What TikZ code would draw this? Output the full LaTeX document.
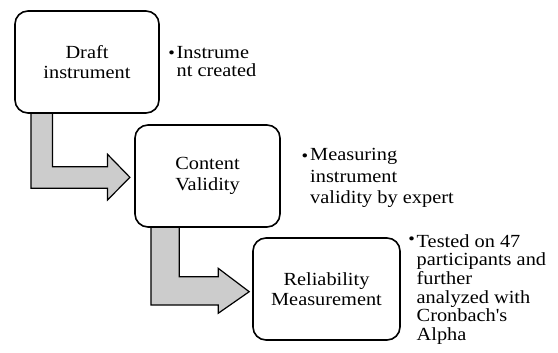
\documentclass[tikz,border=0pt]{standalone}
\usepackage{fontspec}
\setmainfont[FakeStretch=1.1, Ligatures=TeXOff]{Liberation Serif}
\usetikzlibrary{calc,backgrounds}

\tikzset{
  stage/.style={draw=black, line width=1.6pt, rounded corners=13pt, fill=white,
    align=center, inner sep=0pt, font=\fontsize{18.5}{20.5}\selectfont},
  flow/.style={draw=black, line width=1.2pt, fill=gray!40, line join=miter},
  note/.style={anchor=north west, align=left, inner sep=0pt},
  dot/.style={anchor=center, inner sep=0pt, font=\fontsize{17}{17}\selectfont}
}

\begin{document}
\begin{tikzpicture}[x=1pt,y=-1pt]
  \useasboundingbox (0,0) rectangle (558,353);

  % process stages
  \node[stage, minimum width=144pt, minimum height=102pt] (draft) at (87,62)
    {Draft\\instrument};
  \node[stage, minimum width=145pt, minimum height=102pt] (content) at (207.5,176)
    {Content\\Validity};
  \node[stage, minimum width=147pt, minimum height=102pt] (reliab) at (326.5,289)
    {Reliability\\Measurement};

  % bent block arrows between the stages
  \begin{scope}[on background layer]
    \draw[flow] ($(draft.south west)+(38.3,0)$) |- ($(content.west)+(-26.7,-9.3)$)
      -- ++(0,-12.4) -- ($(content.west)+(-4.3,1.3)$)
      -- ($(content.west)+(-26.7,24)$) -- ++(0,-11.7)
      -| ($(draft.south west)+(16.7,0)$);
    \draw[flow] ($(content.south west)+(45,0)$) |- ($(reliab.west)+(-34,-12.3)$)
      -- ++(0,-8.4) -- ($(reliab.west)+(-3,2.7)$)
      -- ($(reliab.west)+(-34,24.3)$) -- ++(0,-8.3)
      -| ($(content.south west)+(16.7,0)$);
  \end{scope}

  % bullet notes beside each stage
  \node[dot] (b1) at (171.7,54.2) {•};
  \node[note, font=\fontsize{18.5}{18.4}\selectfont] (n1) at (176.5,46)
    {Instrume\\nt created};
  \node[dot] (b2) at (305,157.5) {•};
  \node[note, font=\fontsize{18.5}{21.7}\selectfont] (n2) at (310,148)
    {Measuring\\instrument\\validity by expert};
  \node[dot] (b3) at (411.7,240.8) {•};
  \node[note, font=\fontsize{18.5}{18.7}\selectfont] (n3) at (416.5,234)
    {Tested on 47\\participants and\\further\\analyzed with\\Cronbach's\\Alpha};
\end{tikzpicture}
\end{document}
